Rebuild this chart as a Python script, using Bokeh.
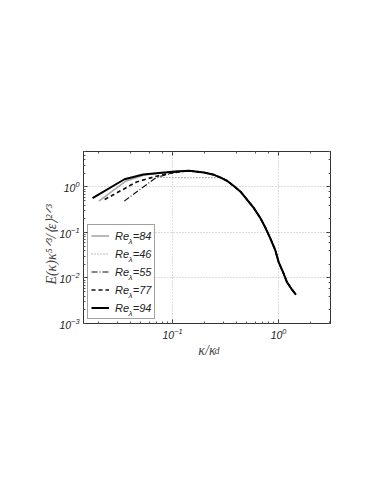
import numpy as np
from bokeh.plotting import figure
from bokeh.models import (LogAxis, Legend, LegendItem, Label, Range1d, BoxAnnotation,
                          CustomJSTickFormatter)
from bokeh.embed import file_html
from bokeh.resources import INLINE

# ---- data ----
series_names = ["Re84", "Re46", "Re55", "Re77", "Re94"]
legend_values = ["84", "46", "55", "77", "94"]

# common dissipation-range tail shared by all runs
tail_k = [0.143, 0.198, 0.246, 0.284, 0.328, 0.378, 0.438, 0.504, 0.583, 0.673,
          0.75, 0.834, 0.931, 1.0, 1.10, 1.20, 1.335, 1.46]
tail_e = [2.27, 2.08, 1.85, 1.61, 1.36, 1.05, 0.787, 0.53, 0.347, 0.208,
          0.129, 0.075, 0.041, 0.0227, 0.0136, 0.0081, 0.0056, 0.0043]

k_84 = [0.0202, 0.0365, 0.055, 0.073, 0.092, 0.11]
e_84 = [0.49, 1.36, 1.85, 2.0, 2.1, 2.2]

k_46 = [0.072, 0.144, 0.216]
e_46 = [1.62, 1.60, 1.61]
tail_start_46 = 3  # dotted run joins the common tail at kappa/kappa_d = 0.284

k_55 = [0.035, 0.070, 0.105]
e_55 = [0.49, 1.61, 2.1]

k_77 = [0.0229, 0.0458, 0.0687, 0.0916, 0.115]
e_77 = [0.53, 1.29, 1.7, 1.98, 2.15]

k_94 = [0.0176, 0.0352, 0.0528, 0.0704, 0.088, 0.106]
e_94 = [0.57, 1.48, 1.88, 2.0, 2.1, 2.19]

x_min, x_max = 10 ** -1.84, 10 ** 0.49
y_min, y_max = 1e-3, 10 ** 0.78

# ---- figure ----
p = figure(width=366, height=476, x_axis_type="log", y_axis_type="log",
           x_range=Range1d(x_min, x_max), y_range=Range1d(y_min, y_max),
           output_backend="svg", toolbar_location=None,
           min_border_left=83, min_border_right=36,
           min_border_top=151, min_border_bottom=153)
p.background_fill_color = "white"
p.border_fill_color = "white"
p.outline_line_color = "#333333"
p.outline_line_width = 1

p.grid.grid_line_color = "#bbbbbb"
p.grid.grid_line_dash = "1 2"
p.grid.grid_line_width = 1

xax = p.below[0]
yax = p.left[0]

blank = CustomJSTickFormatter(code="return ''")
p.add_layout(LogAxis(formatter=blank), "above")
p.add_layout(LogAxis(formatter=blank), "right")

for ax in p.axis:
    ax.axis_line_color = "#333333"
    ax.major_tick_line_color = "#333333"
    ax.minor_tick_line_color = "#555555"
    ax.major_tick_in = 4
    ax.major_tick_out = 0
    ax.minor_tick_in = 2
    ax.minor_tick_out = 0
    ax.major_label_text_font = "Liberation Sans"
    ax.major_label_text_font_style = "italic"
    ax.major_label_text_font_size = "10.5px"
    ax.major_label_text_color = "#222222"
    ax.major_label_standoff = 4

lab_col = "#444444"
yax.axis_label = "E(κ)κ⁵ᐟ³/⟨ε⟩²ᐟ³\u2003"
xax.axis_label = "κ/κ"
for ax in (xax, yax):
    ax.axis_label_text_font = "Liberation Serif"
    ax.axis_label_text_font_style = "italic"
    ax.axis_label_text_font_size = "14px"
    ax.axis_label_text_color = lab_col
yax.axis_label_standoff = -3
xax.axis_label_standoff = 1

# white backing under the (transparent) legend, hides the grid there
p.add_layout(BoxAnnotation(left=4, right=70, bottom=4, top=97,
                           left_units="screen", right_units="screen",
                           bottom_units="screen", top_units="screen",
                           fill_color="white", fill_alpha=1.0, line_color=None,
                           level="underlay"))

styles = [
    dict(x=k_84 + tail_k, y=e_84 + tail_e, color="#a8a8a8", width=1.6, dash="solid"),
    dict(x=k_46 + tail_k[tail_start_46:], y=e_46 + tail_e[tail_start_46:],
         color="#777777", width=1.1, dash="1 2"),
    dict(x=k_55 + tail_k, y=e_55 + tail_e, color="#111111", width=1.1, dash="6 2 1 2"),
    dict(x=k_77 + tail_k, y=e_77 + tail_e, color="#111111", width=1.7, dash="4 3"),
    dict(x=k_94 + tail_k, y=e_94 + tail_e, color="#000000", width=2.0, dash="solid"),
]

items = []
for name, val, st in zip(series_names, legend_values, styles):
    r = p.line(st["x"], st["y"], line_color=st["color"], line_width=st["width"],
               line_dash=st["dash"])
    items.append(LegendItem(label="Re\u2004=" + val, renderers=[r]))

legend = Legend(items=items, location=(4, 4), margin=0, padding=3,
                spacing=3, label_height=15, glyph_height=15, glyph_width=18,
                label_standoff=6,
                label_text_font="Liberation Sans", label_text_font_style="italic",
                label_text_font_size="11px", label_text_color="#222222",
                border_line_color="#444444", border_line_width=1,
                background_fill_alpha=0.0)
p.add_layout(legend, "center")

# subscript lambda on each legend entry (frame-relative pixels)
for i in range(len(items)):
    p.add_layout(Label(x=45, y=82.5 - 18 * i, x_units="screen", y_units="screen",
                       text="λ", text_font="Liberation Sans", text_font_style="italic",
                       text_font_size="8px", text_color="#222222", level="overlay",
                       text_align="left", text_baseline="middle"))

# subscript d of the x-axis label, in a side panel below the axis
p.add_layout(Label(x=131, y=21, x_units="screen", y_units="screen", text="d",
                   text_font="Liberation Serif", text_font_style="italic",
                   text_font_size="10px", text_color=lab_col,
                   text_align="left", text_baseline="middle"), "below")

open("out.html", "w").write(file_html(p, INLINE))
